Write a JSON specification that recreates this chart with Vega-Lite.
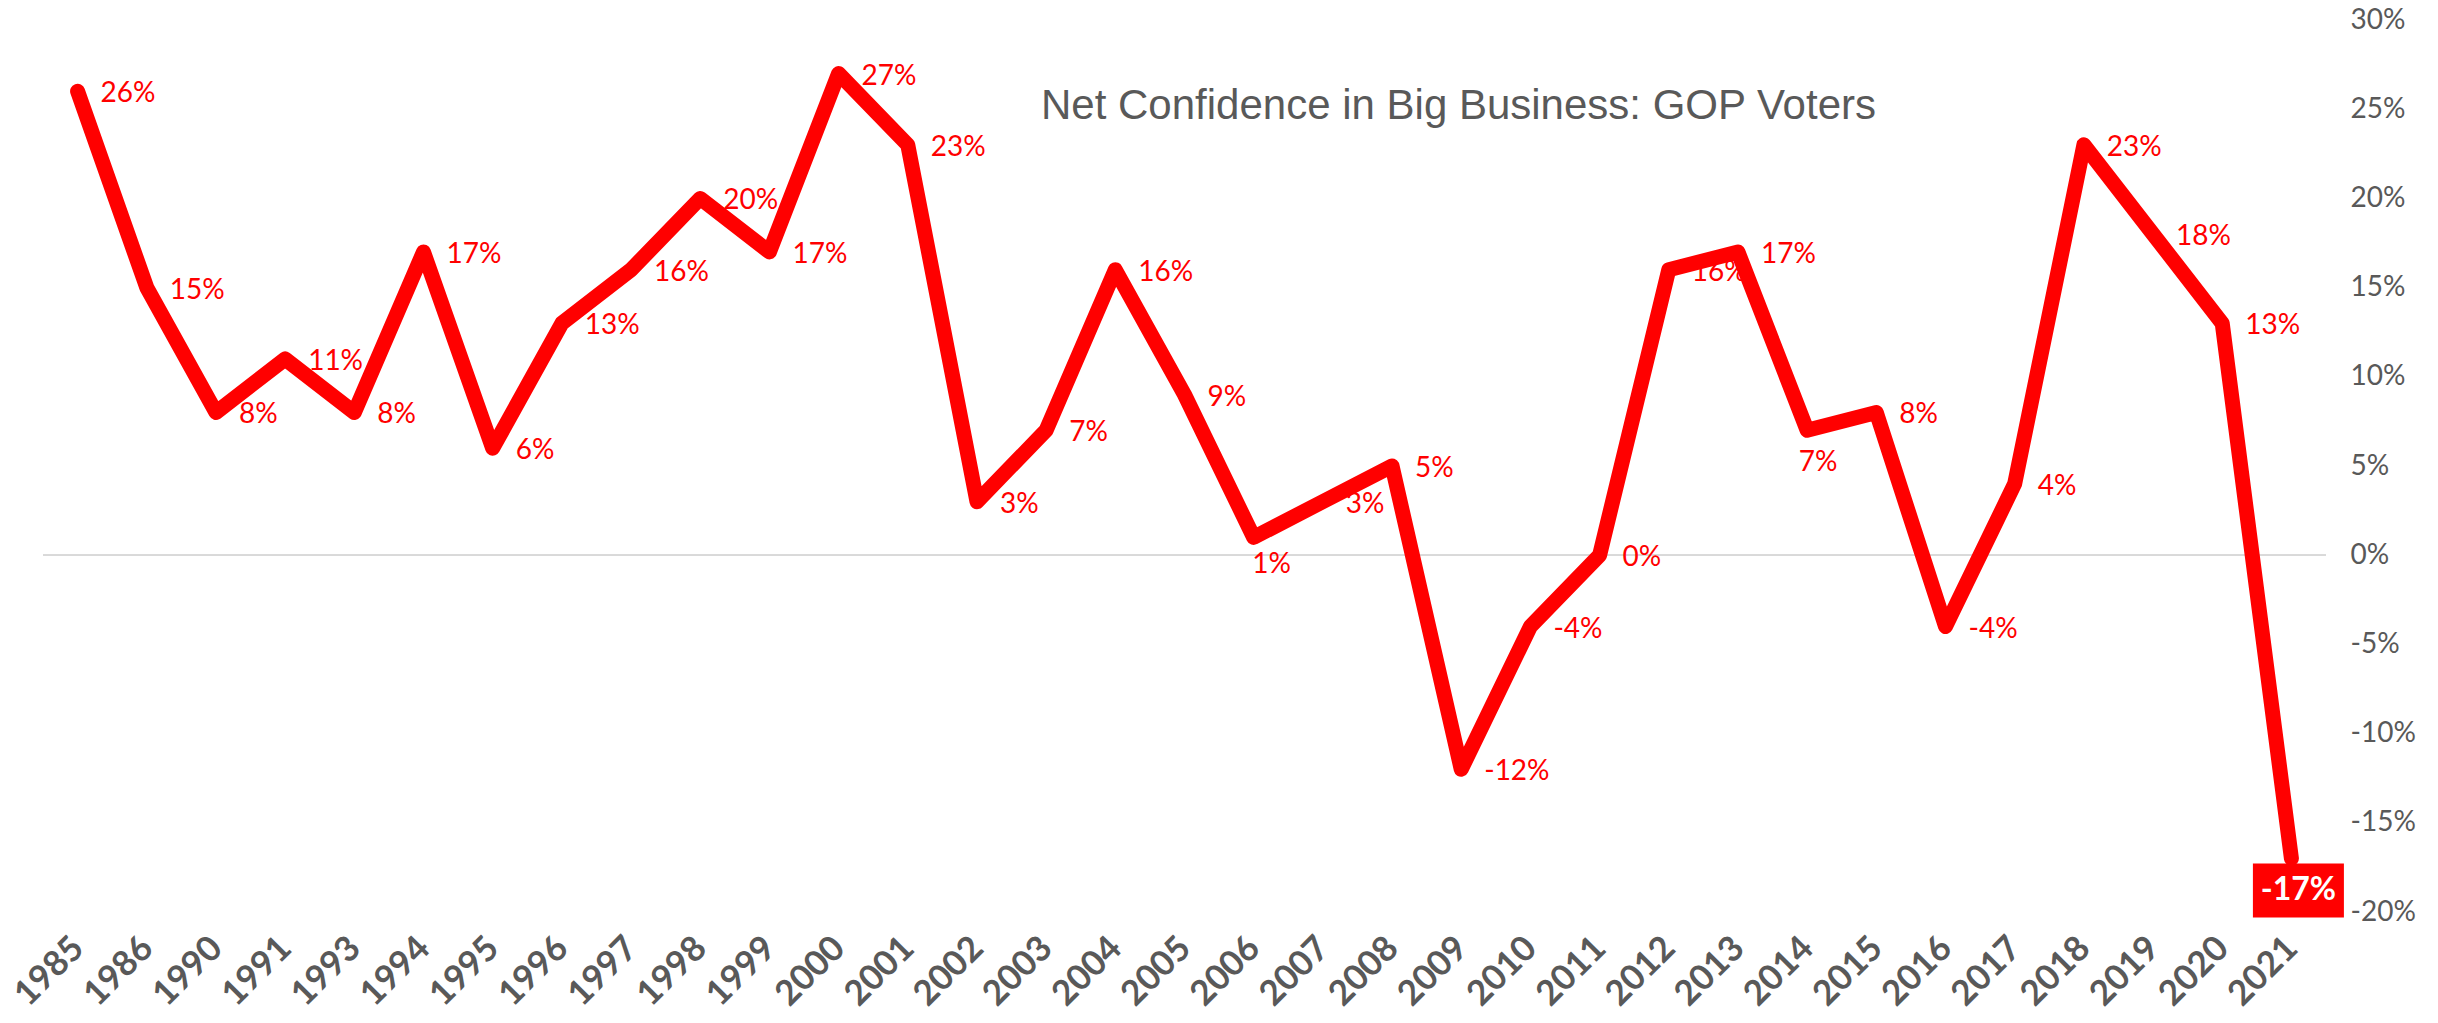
{
  "$schema": "https://vega.github.io/schema/vega-lite/v6.json",
  "autosize": "none",
  "width": 2283,
  "height": 892,
  "padding": {"left": 43, "top": 20, "right": 112, "bottom": 111},
  "background": "white",
  "title": {
    "text": "Net Confidence in Big Business: GOP Voters",
    "anchor": "middle",
    "frame": "group",
    "offset": 0,
    "dx": 274,
    "dy": 155,
    "baseline": "alphabetic",
    "font": "Liberation Sans",
    "fontSize": 42,
    "fontWeight": "normal",
    "color": "#595959"
  },
  "config": {"view": {"stroke": null}},
  "data": {
    "values": [
      {"year": "1985", "v": 0.26},
      {"year": "1986", "v": 0.15},
      {"year": "1990", "v": 0.08},
      {"year": "1991", "v": 0.11},
      {"year": "1993", "v": 0.08},
      {"year": "1994", "v": 0.17},
      {"year": "1995", "v": 0.06},
      {"year": "1996", "v": 0.13},
      {"year": "1997", "v": 0.16},
      {"year": "1998", "v": 0.20},
      {"year": "1999", "v": 0.17},
      {"year": "2000", "v": 0.27},
      {"year": "2001", "v": 0.23},
      {"year": "2002", "v": 0.03},
      {"year": "2003", "v": 0.07},
      {"year": "2004", "v": 0.16},
      {"year": "2005", "v": 0.09},
      {"year": "2006", "v": 0.01},
      {"year": "2007", "v": 0.03},
      {"year": "2008", "v": 0.05},
      {"year": "2009", "v": -0.12},
      {"year": "2010", "v": -0.04},
      {"year": "2011", "v": 0.00},
      {"year": "2012", "v": 0.16},
      {"year": "2013", "v": 0.17},
      {"year": "2014", "v": 0.07},
      {"year": "2015", "v": 0.08},
      {"year": "2016", "v": -0.04},
      {"year": "2017", "v": 0.04},
      {"year": "2018", "v": 0.23},
      {"year": "2019", "v": 0.18},
      {"year": "2020", "v": 0.13},
      {"year": "2021", "v": -0.17}
    ]
  },
  "transform": [
    {"calculate": "(datum.v < 0 ? '-' : '') + format(abs(datum.v), '.0%')", "as": "label"}
  ],
  "encoding": {
    "x": {
      "field": "year",
      "type": "ordinal",
      "sort": null,
      "scale": {
        "type": "point",
        "padding": 0.5,
        "domain": ["1985", "1986", "1990", "1991", "1993", "1994", "1995", "1996", "1997", "1998", "1999", "2000", "2001", "2002", "2003", "2004", "2005", "2006", "2007", "2008", "2009", "2010", "2011", "2012", "2013", "2014", "2015", "2016", "2017", "2018", "2019", "2020", "2021"]
      },
      "axis": {
        "title": null,
        "domain": false,
        "ticks": false,
        "labelAngle": -45,
        "labelAlign": "right",
        "labelBaseline": "middle",
        "labelPadding": 30,
        "labelFont": "Lato",
        "labelFontSize": 35,
        "labelFontWeight": "bold",
        "labelColor": "#595959"
      }
    },
    "y": {
      "field": "v",
      "type": "quantitative",
      "scale": {"domain": [-0.2, 0.3], "nice": false, "zero": false},
      "axis": {
        "orient": "right",
        "title": null,
        "domain": false,
        "ticks": false,
        "grid": false,
        "values": [-0.2, -0.15, -0.1, -0.05, 0, 0.05, 0.1, 0.15, 0.2, 0.25, 0.3],
        "labelExpr": "(datum.value < -0.0001 ? '-' : '') + format(abs(datum.value), '.0%')",
        "labelAlign": "left",
        "labelPadding": 24,
        "labelFont": "Lato",
        "labelFontSize": 28,
        "labelColor": "#595959"
      }
    }
  },
  "layer": [
    {
      "mark": {"type": "rule", "color": "#D9D9D9", "strokeWidth": 1.5},
      "encoding": {"y": {"datum": 0}, "x": {}}
    },
    {
      "transform": [{"filter": "datum.year != '2021' && datum.year != '2006' && datum.year != '2014'"}],
      "mark": {"type": "text", "align": "left", "baseline": "middle", "dx": 23, "dy": 3, "font": "Lato", "fontSize": 28, "color": "#FF0000"},
      "encoding": {"text": {"field": "label"}}
    },
    {
      "transform": [{"filter": "datum.year == '2006'"}],
      "mark": {"type": "text", "align": "center", "baseline": "middle", "dx": 18, "dy": 28, "font": "Lato", "fontSize": 28, "color": "#FF0000"},
      "encoding": {"text": {"field": "label"}}
    },
    {
      "transform": [{"filter": "datum.year == '2014'"}],
      "mark": {"type": "text", "align": "center", "baseline": "middle", "dx": 11, "dy": 33, "font": "Lato", "fontSize": 28, "color": "#FF0000"},
      "encoding": {"text": {"field": "label"}}
    },
    {
      "mark": {"type": "line", "color": "#FF0000", "strokeWidth": 15, "strokeCap": "round", "strokeJoin": "round"}
    },
    {
      "transform": [{"filter": "datum.year == '2021'"}],
      "mark": {"type": "point", "shape": "M-1,-0.593L1,-0.593L1,0.593L-1,0.593Z", "size": 8281, "filled": true, "color": "#FF0000", "opacity": 1, "strokeWidth": 0, "xOffset": 7, "yOffset": 32}
    },
    {
      "transform": [{"filter": "datum.year == '2021'"}],
      "mark": {"type": "text", "align": "center", "baseline": "middle", "font": "Lato", "fontSize": 32, "fontWeight": "bold", "color": "white", "xOffset": 7, "yOffset": 32},
      "encoding": {"text": {"field": "label"}}
    }
  ]
}
